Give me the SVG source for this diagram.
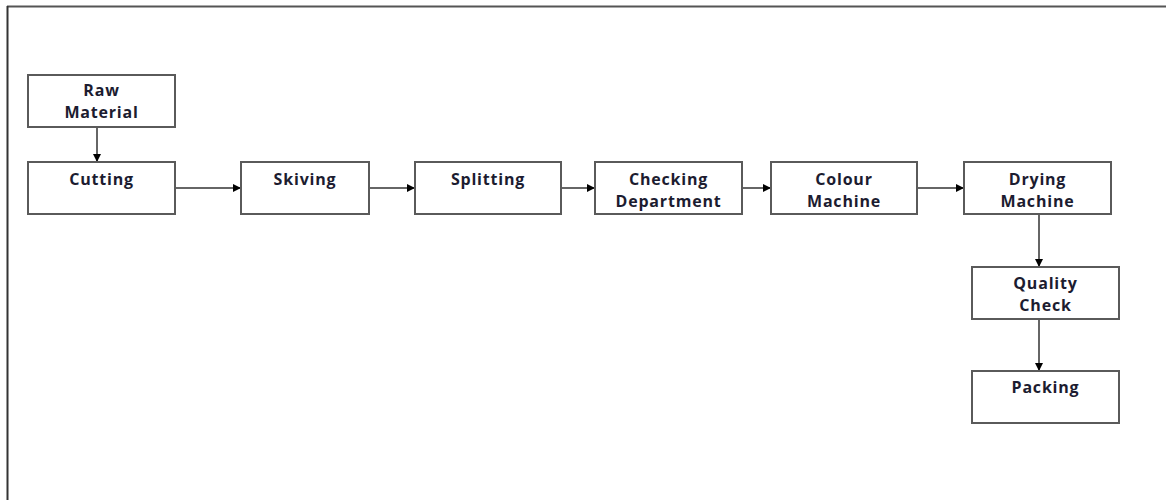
<svg xmlns="http://www.w3.org/2000/svg" width="1166" height="500" viewBox="0 0 1166 500">
<style>
.box{fill:#fff;stroke:#5a5a5a;stroke-width:2}
.lbl{font-family:"Open Sans",Lato,"Liberation Sans",sans-serif;font-weight:bold;font-size:16px;letter-spacing:0.8px;fill:#1c1c30;text-anchor:middle}
.con{stroke:#333;stroke-width:1.5;fill:none;marker-end:url(#ah)}
</style>
<defs>
<marker id="ah" viewBox="0 0 10 10" refX="10" refY="5" markerUnits="userSpaceOnUse" markerWidth="9" markerHeight="8" orient="auto">
<path d="M0,0 L10,5 L0,10 z" fill="#000"/>
</marker>
</defs>
<rect width="1166" height="500" fill="#fff"/>
<g id="frame">
<line x1="7" y1="6.5" x2="1166" y2="6.5" stroke="#555" stroke-width="2"/>
<line x1="7.5" y1="6" x2="7.5" y2="500" stroke="#333" stroke-width="2"/>
</g>
<g id="connectors">
<line class="con" x1="97" y1="127" x2="97" y2="162"/>
<line class="con" x1="175" y1="188" x2="241" y2="188"/>
<line class="con" x1="369" y1="188" x2="415" y2="188"/>
<line class="con" x1="561" y1="188" x2="595" y2="188"/>
<line class="con" x1="742" y1="188" x2="771" y2="188"/>
<line class="con" x1="917" y1="188" x2="964" y2="188"/>
<line class="con" x1="1039" y1="214" x2="1039" y2="267"/>
<line class="con" x1="1039" y1="319" x2="1039" y2="371"/>
</g>
<g id="raw-material"><rect class="box" x="28" y="75" width="147" height="52"/><text class="lbl" x="101.5" y="96">Raw</text><text class="lbl" x="101.5" y="118">Material</text></g>
<g id="cutting"><rect class="box" x="28" y="162" width="147" height="52"/><text class="lbl" x="101.5" y="185">Cutting</text></g>
<g id="skiving"><rect class="box" x="241" y="162" width="128" height="52"/><text class="lbl" x="305" y="185">Skiving</text></g>
<g id="splitting"><rect class="box" x="415" y="162" width="146" height="52"/><text class="lbl" x="488" y="185">Splitting</text></g>
<g id="checking"><rect class="box" x="595" y="162" width="147" height="52"/><text class="lbl" x="668.5" y="185">Checking</text><text class="lbl" x="668.5" y="207">Department</text></g>
<g id="colour"><rect class="box" x="771" y="162" width="146" height="52"/><text class="lbl" x="844" y="185">Colour</text><text class="lbl" x="844" y="207">Machine</text></g>
<g id="drying"><rect class="box" x="964" y="162" width="147" height="52"/><text class="lbl" x="1037.5" y="185">Drying</text><text class="lbl" x="1037.5" y="207">Machine</text></g>
<g id="quality"><rect class="box" x="972" y="267" width="147" height="52"/><text class="lbl" x="1045.5" y="289">Quality</text><text class="lbl" x="1045.5" y="311">Check</text></g>
<g id="packing"><rect class="box" x="972" y="371" width="147" height="52"/><text class="lbl" x="1045.5" y="393">Packing</text></g>
</svg>
